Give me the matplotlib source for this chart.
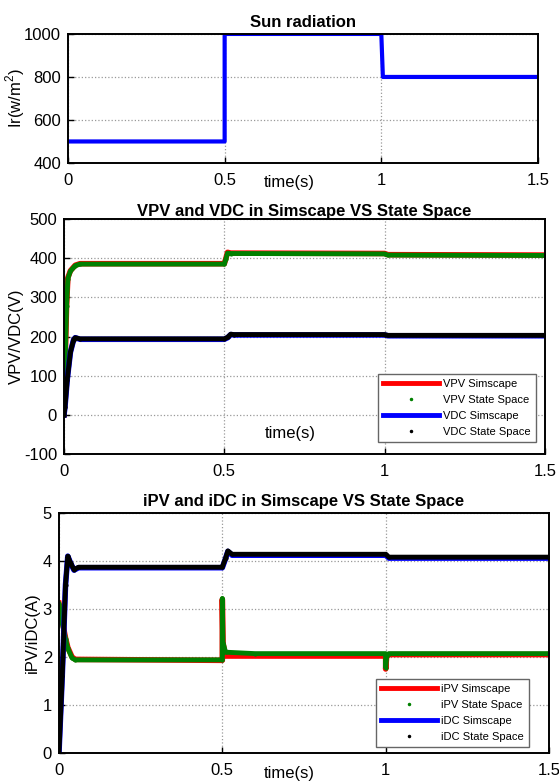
import matplotlib
matplotlib.use('Agg')
import matplotlib.pyplot as plt
from matplotlib.lines import Line2D

plt.rcParams['font.family'] = ['Liberation Sans', 'DejaVu Sans']
plt.rcParams['mathtext.fontset'] = 'custom'
plt.rcParams['mathtext.rm'] = 'Liberation Sans'
plt.rcParams['axes.unicode_minus'] = False

# sun radiation
t_ir = [0, 0.5, 0.5, 1.0, 1.005, 1.5]
ir = [500, 500, 1000, 1000, 800, 800]

# voltages
t_v = [0, 0.004, 0.008, 0.012, 0.02, 0.035, 0.05, 0.5, 0.505, 0.51, 0.52, 1.0, 1.01, 1.5]
vpv_sim = [0, 150, 280, 350, 368, 382, 386, 386, 400, 415, 413, 412, 409, 408]
vpv_ss = [0, 148, 278, 348, 367, 381, 385, 385, 399, 413, 412, 411, 408, 407]
t_d = [0, 0.003, 0.01, 0.02, 0.03, 0.035, 0.05, 0.5, 0.51, 0.52, 0.53, 1.0, 1.01, 1.5]
vdc_sim = [0, 20, 90, 160, 192, 197, 193, 193, 197, 205, 204, 204, 202, 202]
vdc_ss = [0, 20, 90, 160, 192, 197, 194, 194, 198, 206, 205, 205, 203, 203]

# currents
t_ipv = [0, 0.01, 0.02, 0.027, 0.04, 0.05, 0.5, 0.5, 0.502, 0.51, 0.6, 1.0, 1.0, 1.003, 1.01, 1.5]
ipv_sim = [3.12, 2.75, 2.4, 2.2, 2.0, 1.95, 1.93, 3.2, 2.3, 2.02, 2.02, 2.02, 1.75, 2.0, 2.05, 2.05]
ipv_ss = [3.1, 2.7, 2.38, 2.18, 1.98, 1.94, 1.94, 3.22, 2.3, 2.1, 2.07, 2.07, 1.78, 2.03, 2.07, 2.07]
t_idc = [0, 0.01, 0.02, 0.027, 0.036, 0.046, 0.06, 0.5, 0.51, 0.517, 0.53, 1.0, 1.01, 1.5]
idc_sim = [0, 1.6, 3.5, 4.1, 3.95, 3.81, 3.86, 3.86, 4.05, 4.2, 4.12, 4.12, 4.06, 4.06]
idc_ss = [0, 1.6, 3.5, 4.1, 3.95, 3.82, 3.87, 3.87, 4.06, 4.21, 4.14, 4.14, 4.08, 4.08]

xt = [0, 0.5, 1, 1.5]
xtl = ['0', '0.5', '1', '1.5']

fs = 12

fig = plt.figure(figsize=(5.59, 7.82), dpi=100)


def style(ax, yt):
    ax.set_xlim(0, 1.5)
    ax.set_xticks(xt)
    ax.set_xticklabels(xtl)
    ax.set_ylim(yt[0], yt[-1])
    ax.set_yticks(yt)
    ax.tick_params(axis='x', direction='in', labelsize=fs, length=4, width=1, pad=7)
    ax.tick_params(axis='y', direction='in', labelsize=fs, length=4, width=1, pad=5)
    ax.grid(True, color='#999999', linestyle=':', linewidth=0.9)
    for s in ax.spines.values():
        s.set_linewidth(1.4)


def add_legend(ax, labels, anchor):
    h = [Line2D([], [], color='red', lw=3.5),
         Line2D([], [], color='green', ls='none', marker='.', ms=3),
         Line2D([], [], color='blue', lw=3.5),
         Line2D([], [], color='black', ls='none', marker='.', ms=3)]
    ax.legend(h, labels, loc='lower right', bbox_to_anchor=anchor, fontsize=8,
              handlelength=5, labelspacing=0.55, fancybox=False, framealpha=1,
              edgecolor='#666666', borderpad=0.45, handletextpad=0.4, borderaxespad=0)


ax1 = fig.add_axes([0.1216, 0.7916, 0.8408, 0.165])
ax1.plot(t_ir, ir, color='blue', lw=3)
style(ax1, [400, 600, 800, 1000])
ax1.set_title('Sun radiation', fontsize=fs, fontweight='bold', pad=5)
ax1.set_ylabel('Ir(w/m$^2$)', fontsize=fs)
ax1.yaxis.set_label_coords(-0.087, 0.5)
ax1.text(0.705, 345, 'time(s)', fontsize=fs, ha='center', va='top')

ax2 = fig.add_axes([0.1145, 0.4194, 0.8605, 0.3005])
ax2.plot(t_v, vpv_sim, color='red', lw=4)
ax2.plot(t_v, vpv_ss, color='green', lw=3.5, marker='.', ms=4)
ax2.plot(t_d, vdc_sim, color='blue', lw=4)
ax2.plot(t_d, vdc_ss, color='black', lw=3.5, marker='.', ms=4)
style(ax2, [-100, 0, 100, 200, 300, 400, 500])
ax2.set_title('VPV and VDC in Simscape VS State Space', fontsize=fs, fontweight='bold', pad=2)
ax2.set_ylabel('VPV/VDC(V)', fontsize=fs)
ax2.yaxis.set_label_coords(-0.083, 0.5)
ax2.text(0.705, -47, 'time(s)', fontsize=fs, ha='center', va='center')
add_legend(ax2, ['VPV Simscape', 'VPV State Space', 'VDC Simscape', 'VDC State Space'],
           (0.981, 0.051))

ax3 = fig.add_axes([0.1055, 0.0371, 0.8766, 0.3069])
ax3.plot(t_ipv, ipv_sim, color='red', lw=4)
ax3.plot(t_ipv, ipv_ss, color='green', lw=3.5, marker='.', ms=4)
ax3.plot(t_idc, idc_sim, color='blue', lw=4)
ax3.plot(t_idc, idc_ss, color='black', lw=3.5, marker='.', ms=4)
style(ax3, [0, 1, 2, 3, 4, 5])
ax3.set_title('iPV and iDC in Simscape VS State Space', fontsize=fs, fontweight='bold', pad=5)
ax3.set_ylabel('iPV/iDC(A)', fontsize=fs)
ax3.yaxis.set_label_coords(-0.039, 0.5)
ax3.text(0.705, -0.42, 'time(s)', fontsize=fs, ha='center', va='center')
add_legend(ax3, ['iPV Simscape', 'iPV State Space', 'iDC Simscape', 'iDC State Space'],
           (0.959, 0.025))

fig.savefig('out.png', dpi=100)
